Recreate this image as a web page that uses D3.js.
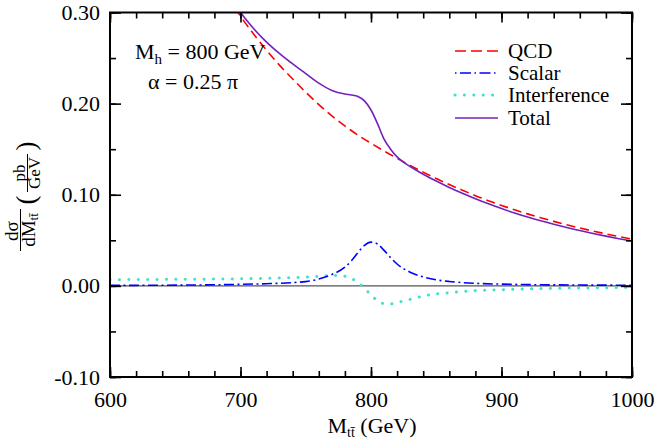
<!DOCTYPE html>
<html>
<head>
<meta charset="utf-8">
<script src="https://cdn.jsdelivr.net/npm/d3@7"></script>
<style>
  html, body { margin: 0; padding: 0; background: #fff; }
  svg { display: block; }
</style>
</head>
<body>
<svg id="chart" width="655" height="439"></svg>
<script>
// Invariant-mass distribution of the top-quark pair, M_h = 800 GeV, alpha = 0.25 pi
const massQCD   = [690, 700, 710, 720, 730, 740, 750, 760, 770, 780, 790, 800, 810, 820, 830, 840, 850, 860, 870, 880, 890, 900, 910, 920, 930, 940, 950, 960, 970, 980, 990, 1000];
const qcd       = [0.318, 0.296, 0.2765, 0.2585, 0.2420, 0.2270, 0.2125, 0.1990, 0.1865, 0.1755, 0.1655, 0.1565, 0.1480, 0.1400, 0.1322, 0.1248, 0.1178, 0.1112, 0.1050, 0.0990, 0.0935, 0.0883, 0.0835, 0.0790, 0.0748, 0.0708, 0.0670, 0.0635, 0.0602, 0.0571, 0.0541, 0.0513];

const massScalar = [600, 620, 640, 660, 680, 700, 720, 740, 750, 760, 770, 780, 785, 790, 795, 800, 805, 810, 815, 820, 830, 840, 850, 860, 870, 880, 900, 920, 940, 960, 980, 1000];
const scalar     = [0.0005, 0.0006, 0.0007, 0.0009, 0.0012, 0.0017, 0.0024, 0.0036, 0.0047, 0.0075, 0.0125, 0.0205, 0.0275, 0.0365, 0.0445, 0.0480, 0.0460, 0.0390, 0.0310, 0.0240, 0.0150, 0.0098, 0.0066, 0.0048, 0.0036, 0.0028, 0.0019, 0.0014, 0.0011, 0.0009, 0.0008, 0.0007];

const massInterf = [600, 650, 700, 730, 750, 760, 770, 775, 780, 785, 790, 795, 800, 805, 810, 815, 820, 825, 830, 840, 850, 860, 870, 880, 900, 920, 940, 960, 980, 1000];
const interf     = [0.0068, 0.0072, 0.0078, 0.0086, 0.0095, 0.0105, 0.0113, 0.0114, 0.0105, 0.0080, 0.0040, -0.0025, -0.0100, -0.0165, -0.0195, -0.0198, -0.0185, -0.0165, -0.0148, -0.0112, -0.0088, -0.0075, -0.0062, -0.0052, -0.0042, -0.0034, -0.0027, -0.0023, -0.0020, -0.0018];

const massTotal = [690, 700, 710, 720, 730, 740, 750, 760, 770, 780, 785, 790, 795, 800, 805, 810, 815, 820, 825, 830, 840, 850, 860, 870, 880, 890, 900, 910, 920, 930, 940, 950, 960, 970, 980, 990, 1000];
const total     = [0.320, 0.300, 0.2825, 0.2675, 0.2548, 0.2435, 0.2330, 0.2225, 0.2145, 0.2105, 0.2095, 0.2078, 0.2030, 0.1930, 0.1780, 0.1610, 0.1500, 0.1415, 0.1355, 0.1310, 0.1225, 0.1150, 0.1080, 0.1016, 0.0956, 0.0900, 0.0848, 0.0800, 0.0756, 0.0715, 0.0677, 0.0641, 0.0607, 0.0576, 0.0546, 0.0518, 0.0492];

const xTicks = [600, 700, 800, 900, 1000];
const yTicks = [-0.10, 0.00, 0.10, 0.20, 0.30];
const xMinor = d3.range(600, 1001, 20);
const yMinor = d3.range(-0.10, 0.3001, 0.05);

const seriesNames = ["QCD", "Scalar", "Interference", "Total"];

const FONT = "'Liberation Serif', 'Times New Roman', Times, serif";
const svg = d3.select("#chart");
const L = 110, R = 632, T = 12.5, B = 377;

const x = d3.scaleLinear().domain([600, 1000]).range([L, R]);
const y = d3.scaleLinear().domain([-0.10, 0.30]).range([B, T]);

const styles = {
  QCD:          { color: "#ff0000", dash: "9 5",          width: 1.6, cap: "butt" },
  Scalar:       { color: "#0000ff", dash: "10 3.5 2 3.5", width: 1.6, cap: "butt" },
  Interference: { color: "#40e0d0", dash: "0.1 9.3",      width: 3,   cap: "round" },
  Total:        { color: "#7221bc", dash: null,           width: 1.6, cap: "butt" }
};

svg.append("defs").append("clipPath").attr("id", "plotclip")
  .append("rect").attr("x", L).attr("y", T).attr("width", R - L).attr("height", B - T);

// zero line
svg.append("line")
  .attr("x1", L).attr("x2", R).attr("y1", y(0)).attr("y2", y(0))
  .attr("stroke", "#555").attr("stroke-width", 1.2);

const line = d3.line().x(d => x(d[0])).y(d => y(d[1])).curve(d3.curveMonotoneX);
const curves = svg.append("g").attr("clip-path", "url(#plotclip)");

const seriesData = {
  QCD: d3.zip(massQCD, qcd),
  Scalar: d3.zip(massScalar, scalar),
  Interference: d3.zip(massInterf, interf),
  Total: d3.zip(massTotal, total)
};

["Interference", "Scalar", "QCD", "Total"].forEach(name => {
  const s = styles[name];
  curves.append("path")
    .datum(seriesData[name])
    .attr("d", line)
    .attr("fill", "none")
    .attr("stroke", s.color)
    .attr("stroke-width", s.width)
    .attr("stroke-linecap", s.cap)
    .attr("stroke-dasharray", s.dash);
});

// axes: ticks point inward on all four sides
const fmt = d3.format(".2f");
const axBottom = d3.axisBottom(x).tickValues(xTicks).tickSize(-10).tickPadding(14).tickFormat(d3.format("d"));
const axBottomMinor = d3.axisBottom(x).tickValues(xMinor).tickSize(-6).tickFormat("");
const axTop = d3.axisTop(x).tickValues(xTicks).tickSize(-10).tickFormat("");
const axTopMinor = d3.axisTop(x).tickValues(xMinor).tickSize(-6).tickFormat("");
const axLeft = d3.axisLeft(y).tickValues(yTicks).tickSize(-11).tickPadding(10).tickFormat(d => (d < 0 ? "-" : "") + fmt(Math.abs(d)));
const axLeftMinor = d3.axisLeft(y).tickValues(yMinor).tickSize(-6).tickFormat("");
const axRight = d3.axisRight(y).tickValues(yTicks).tickSize(-11).tickFormat("");
const axRightMinor = d3.axisRight(y).tickValues(yMinor).tickSize(-6).tickFormat("");

function place(axis, tx, ty) {
  const g = svg.append("g").attr("transform", `translate(${tx},${ty})`).call(axis);
  g.select(".domain").remove();
  g.selectAll(".tick line").attr("stroke", "#000").attr("stroke-width", 1.6);
  g.selectAll("text").attr("fill", "#000").style("font-size", "22px");
  return g;
}
place(axBottomMinor, 0, B);
place(axBottom, 0, B);
place(axTopMinor, 0, T);
place(axTop, 0, T);
place(axLeftMinor, L, 0);
place(axLeft, L, 0);
place(axRightMinor, R, 0);
place(axRight, R, 0);

svg.append("rect")
  .attr("x", L).attr("y", T).attr("width", R - L).attr("height", B - T)
  .attr("fill", "none").attr("stroke", "#000").attr("stroke-width", 2);

// x-axis title
const xt = svg.append("text").attr("x", 372).attr("y", 433).attr("text-anchor", "middle")
  .style("font-size", "22px").attr("fill", "#000");
xt.append("tspan").text("M");
xt.append("tspan").style("font-size", "14px").attr("dy", 4).text("tt\u0304");
xt.append("tspan").attr("dy", -4).text(" (GeV)");

// y-axis title: d sigma / dM_tt (pb / GeV), rotated
const yl = svg.append("g").attr("transform", "translate(0,195) rotate(-90)");
yl.append("text").attr("x", -36).attr("y", 18).attr("text-anchor", "middle").style("font-size", "19px").text("d\u03c3");
yl.append("line").attr("x1", -56).attr("x2", -14).attr("y1", 20.5).attr("y2", 20.5).attr("stroke", "#000").attr("stroke-width", 1);
const den = yl.append("text").attr("x", -35).attr("y", 35).attr("text-anchor", "middle").style("font-size", "19px");
den.append("tspan").text("dM");
den.append("tspan").style("font-size", "13px").attr("dy", 3).text("tt\u0304");
yl.append("text").attr("x", -5).attr("y", 35).attr("text-anchor", "middle").style("font-size", "27px").text("(");
yl.append("text").attr("x", 22).attr("y", 25).attr("text-anchor", "middle").style("font-size", "17px").text("pb");
yl.append("line").attr("x1", 3).attr("x2", 41).attr("y1", 27.5).attr("y2", 27.5).attr("stroke", "#000").attr("stroke-width", 1);
yl.append("text").attr("x", 22).attr("y", 40).attr("text-anchor", "middle").style("font-size", "17px").text("GeV");
yl.append("text").attr("x", 49).attr("y", 35).attr("text-anchor", "middle").style("font-size", "27px").text(")");

// parameter annotation
const a1 = svg.append("text").attr("x", 135).attr("y", 59).style("font-size", "22px").attr("fill", "#000");
a1.append("tspan").text("M");
a1.append("tspan").style("font-size", "15px").attr("dy", 5).text("h");
a1.append("tspan").attr("dy", -5).text(" = 800 GeV");
svg.append("text").attr("x", 148).attr("y", 89).style("font-size", "22px").attr("fill", "#000")
  .text("\u03b1 = 0.25 \u03c0");

// legend
const legendY = [51, 73, 95, 118];
const lg = svg.append("g");
seriesNames.forEach((name, i) => {
  const s = styles[name];
  lg.append("line")
    .attr("x1", 455).attr("x2", 498).attr("y1", legendY[i]).attr("y2", legendY[i])
    .attr("stroke", s.color).attr("stroke-width", s.width)
    .attr("stroke-linecap", s.cap)
    .attr("stroke-dasharray", name === "QCD" ? "11 5" : name === "Scalar" ? "1.5 3.5 11 3.5" : s.dash);
  lg.append("text").attr("x", 508).attr("y", legendY[i] + 6.5)
    .style("font-size", "21px").attr("fill", "#000").text(name);
});

// serif face throughout
svg.selectAll("text").style("font-family", FONT);
</script>
</body>
</html>
